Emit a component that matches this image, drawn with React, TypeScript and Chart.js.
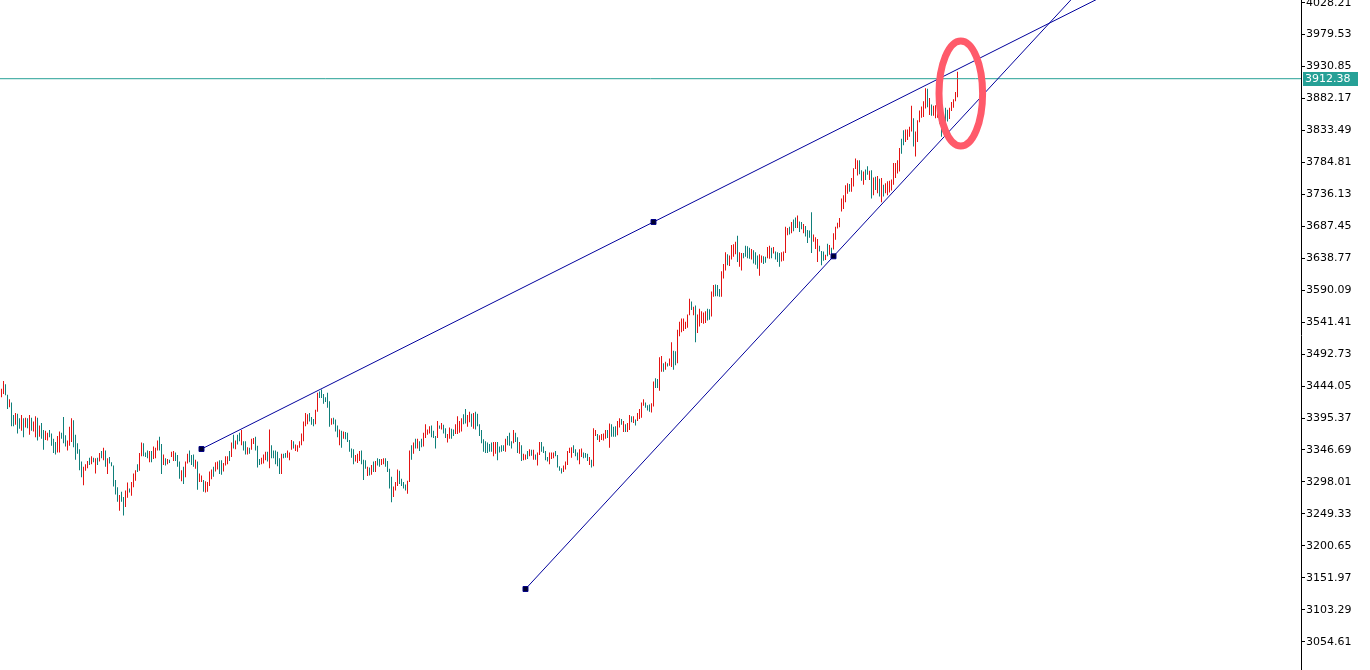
import React, { useEffect, useRef } from "react";
import { Chart, registerables } from "chart.js";

Chart.register(...registerables);

// ---- data (prices) ----
const barHigh: number[] = [
  3440,3452,3447,3431,3424,3419,3400,3403,3402,3395,
  3400,3395,3396,3395,3400,3396,3390,3398,3396,3384,
  3388,3377,3376,3373,3377,3372,3364,3359,3368,3375,
  3373,3397,3369,3361,3382,3395,3392,3370,3357,3348,
  3329,3321,3325,3330,3335,3337,3335,3334,3335,3342,
  3345,3350,3346,3334,3336,3328,3323,3301,3290,3278,
  3283,3275,3285,3297,3288,3298,3311,3316,3325,3342,
  3358,3357,3343,3346,3345,3345,3352,3350,3361,3367,
  3356,3340,3334,3333,3332,3344,3345,3343,3339,3329,
  3316,3321,3329,3341,3346,3339,3340,3332,3329,3311,
  3308,3301,3299,3298,3314,3317,3321,3328,3329,3331,
  3331,3327,3337,3337,3345,3358,3370,3361,3370,3373,
  3377,3360,3360,3351,3350,3364,3365,3367,3353,3333,
  3335,3340,3344,3344,3378,3354,3346,3346,3344,3334,
  3341,3341,3342,3346,3343,3362,3360,3355,3354,3360,
  3372,3390,3403,3401,3403,3397,3394,3408,3434,3436,
  3439,3432,3427,3434,3421,3395,3396,3393,3384,3378,
  3376,3375,3374,3373,3362,3349,3348,3339,3341,3345,
  3346,3332,3331,3321,3320,3324,3329,3330,3334,3333,
  3333,3334,3334,3330,3318,3306,3291,3298,3317,3315,
  3303,3298,3294,3300,3346,3354,3358,3364,3364,3360,
  3364,3373,3386,3378,3383,3384,3376,3368,3391,3384,
  3388,3385,3380,3371,3381,3379,3378,3386,3398,3391,
  3395,3401,3409,3400,3405,3402,3403,3405,3402,3386,
  3377,3363,3360,3358,3356,3358,3359,3359,3359,3352,
  3354,3354,3364,3368,3373,3360,3377,3373,3366,3359,
  3354,3341,3340,3345,3348,3347,3347,3340,3343,3359,
  3359,3352,3345,3336,3343,3343,3343,3345,3339,3322,
  3319,3323,3329,3345,3350,3351,3354,3348,3343,3348,
  3349,3343,3342,3341,3336,3332,3380,3377,3371,3369,
  3371,3372,3377,3377,3387,3386,3382,3383,3391,3395,
  3394,3391,3386,3388,3400,3398,3398,3393,3403,3409,
  3419,3424,3419,3415,3416,3418,3451,3456,3455,3488,
  3490,3479,3481,3479,3486,3511,3498,3497,3530,3542,
  3547,3547,3542,3553,3577,3573,3565,3567,3553,3562,
  3558,3556,3558,3562,3561,3588,3598,3599,3598,3592,
  3619,3630,3648,3645,3643,3659,3660,3664,3673,3648,
  3647,3647,3658,3657,3655,3653,3651,3648,3643,3645,
  3643,3642,3641,3656,3658,3655,3656,3649,3648,3647,
  3648,3649,3687,3685,3687,3694,3698,3701,3704,3695,
  3694,3691,3688,3682,3681,3709,3675,3671,3668,3658,
  3650,3649,3644,3661,3659,3655,3677,3687,3693,3700,
  3730,3735,3750,3753,3752,3761,3776,3791,3788,3788,
  3773,3771,3774,3779,3772,3773,3762,3763,3764,3760,
  3761,3751,3753,3756,3757,3759,3784,3784,3788,3807,
  3821,3834,3835,3835,3839,3871,3852,3832,3849,3864,
  3870,3878,3898,3897,3883,3873,3871,3872,3874,3868,
  3847,3857,3868,3865,3868,3877,3881,3892,3923,
];

const barLow: number[] = [
  3427,3432,3430,3409,3412,3383,3383,3385,3372,3379,
  3376,3366,3381,3380,3370,3376,3375,3366,3361,3367,
  3364,3347,3362,3361,3366,3353,3342,3340,3343,3343,
  3364,3357,3352,3346,3353,3359,3351,3332,3341,3316,
  3305,3293,3315,3319,3324,3325,3328,3311,3324,3329,
  3334,3331,3321,3310,3326,3322,3291,3279,3268,3254,
  3268,3247,3260,3274,3282,3277,3290,3300,3313,3315,
  3337,3337,3336,3334,3328,3328,3333,3334,3346,3346,
  3310,3324,3323,3325,3327,3336,3330,3330,3321,3303,
  3299,3295,3305,3326,3328,3324,3321,3318,3286,3298,
  3298,3283,3282,3283,3292,3302,3306,3314,3317,3310,
  3309,3314,3323,3325,3330,3336,3349,3348,3355,3360,
  3354,3346,3340,3340,3341,3347,3356,3346,3320,3324,
  3325,3326,3331,3329,3319,3334,3334,3325,3322,3310,
  3310,3334,3335,3335,3331,3347,3349,3345,3344,3350,
  3354,3360,3383,3386,3390,3385,3383,3386,3405,3426,
  3426,3417,3420,3411,3382,3385,3386,3375,3366,3354,
  3350,3364,3363,3359,3344,3335,3325,3329,3327,3330,
  3325,3301,3318,3307,3308,3309,3313,3313,3323,3321,
  3324,3325,3321,3313,3288,3267,3275,3285,3292,3295,
  3292,3288,3285,3280,3298,3332,3341,3349,3349,3345,
  3351,3352,3365,3370,3372,3366,3365,3349,3365,3379,
  3378,3372,3365,3358,3364,3364,3368,3371,3371,3373,
  3375,3386,3387,3382,3389,3382,3379,3378,3383,3368,
  3357,3344,3342,3342,3344,3344,3337,3341,3331,3343,
  3344,3345,3344,3354,3353,3349,3357,3359,3342,3341,
  3330,3331,3332,3333,3337,3338,3332,3332,3323,3339,
  3344,3342,3331,3329,3325,3333,3334,3337,3320,3315,
  3311,3313,3317,3324,3342,3335,3342,3337,3331,3325,
  3336,3334,3335,3330,3324,3320,3322,3368,3362,3359,
  3362,3361,3364,3365,3350,3367,3367,3367,3369,3381,
  3385,3374,3374,3374,3377,3389,3388,3384,3391,3394,
  3396,3414,3411,3407,3405,3404,3413,3441,3441,3437,
  3466,3466,3469,3474,3475,3473,3469,3476,3479,3520,
  3526,3528,3531,3533,3552,3560,3552,3511,3525,3535,
  3540,3539,3540,3544,3545,3550,3580,3581,3581,3580,
  3580,3608,3620,3628,3627,3637,3641,3645,3633,3626,
  3620,3639,3641,3639,3638,3637,3631,3629,3623,3612,
  3632,3630,3632,3639,3638,3639,3646,3637,3633,3626,
  3634,3635,3647,3674,3675,3677,3680,3685,3685,3679,
  3683,3677,3672,3662,3670,3647,3664,3653,3633,3649,
  3628,3635,3636,3642,3644,3639,3652,3667,3684,3686,
  3710,3714,3724,3737,3740,3740,3748,3775,3765,3767,
  3757,3751,3758,3766,3758,3730,3735,3743,3738,3733,
  3724,3733,3738,3735,3739,3742,3751,3761,3768,3771,
  3798,3811,3816,3819,3824,3832,3809,3794,3816,3846,
  3853,3854,3867,3869,3857,3856,3856,3852,3853,3844,
  3824,3837,3846,3847,3851,3863,3868,3878,3884,
];

// r = up bar (red), t = down bar (teal)
const barDirection: string[] = (
  "rrttrttrtt" + "rtrtrtrrtr" + "ttrrttttrr" + "tttrrrtttt" + "trrrtrtrtr" + "trtrtttttr" + "ttrrtrrrtr" +
  "rtttrtrrrt" + "trtrtrrttt" + "rtrrtttrtr" + "rtrrrrtrrt" + "trrrtrtrtt" + "rttrtrrttt" + "rrrtrttttt" +
  "rttrrrtrrr" + "rrrrtttrrt" + "tttttrtttr" + "trtttttrrr" + "tttrtrtrtt" + "rrttttrrrt" + "tttrrtrtrt" +
  "trrrrtttrt" + "rttrrttrrr" + "rttrrtrttt" + "ttttttrrtt" + "ttrtttrttr" + "trrtrtrtrr" + "ttttrrrttt" +
  "trrrrrtttr" + "rtttrtrrtr" + "rrrtrtttrr" + "trtrrtrtrr" + "rrtttrrttr" + "rtrtrrttrr" + "rrrrrtrtrr" +
  "rrrttrrttt" + "rrrtrrrrtr" + "rttttrtttr" + "rttrrtrttt" + "rrrrtrttrt" + "trttttrrrt" + "ttrtrtrrrr" +
  "rrrrtrrrrt" + "trttrtrtrt" + "rtrrrrrrrr" + "ttrrrrtrrr" + "rrrtrtrrrt" + "ttttrrrrr"
).split("");

const priceTicks: number[] = [
  4028.21, 3979.53, 3930.85, 3882.17, 3833.49, 3784.81, 3736.13, 3687.45, 3638.77, 3590.09,
  3541.41, 3492.73, 3444.05, 3395.37, 3346.69, 3298.01, 3249.33, 3200.65, 3151.97, 3103.29, 3054.61,
];

const bidPrice = 3912.38;
const priceRange = [3011.5, 4032.3];
const barRange = [-0.75, 649.75];

const trendUpper = [
  { bar: 100, price: 3348.2 },
  { bar: 326, price: 3694.1 },
];
const trendLower = [
  { bar: 262, price: 3134.9 },
  { bar: 416, price: 3641.8 },
];
const highlight = { bar: 479.65, price: 3889.8, barRadius: 10.9, priceRadius: 80 };

// ---- styles ----
const UP_COLOR = "#e31313";
const DOWN_COLOR = "#0f7f7a";
const TREND_COLOR = "#00009c";
const BID_COLOR = "#26a096";
const ELLIPSE_COLOR = "#ff5a6a";
const FONT = "DejaVu Sans";

function rayPoints(a: { bar: number; price: number }, b: { bar: number; price: number }, toBar: number) {
  const slope = (b.price - a.price) / (b.bar - a.bar);
  return [
    { x: a.bar, y: a.price },
    { x: b.bar, y: b.price },
    { x: toBar, y: a.price + slope * (toBar - a.bar) },
  ];
}

const overlayPlugin = {
  id: "overlay",
  afterDatasetsDraw(chart: any) {
    const { ctx, scales } = chart;
    const x = scales.x;
    const y = scales.y;
    const cx = x.getPixelForValue(highlight.bar);
    const cy = y.getPixelForValue(highlight.price);
    const rx = Math.abs(x.getPixelForValue(highlight.bar + highlight.barRadius) - cx);
    const ry = Math.abs(y.getPixelForValue(highlight.price + highlight.priceRadius) - cy);
    ctx.save();
    ctx.beginPath();
    ctx.ellipse(cx, cy, rx, ry, 0, 0, Math.PI * 2);
    ctx.lineWidth = 7;
    ctx.strokeStyle = ELLIPSE_COLOR;
    ctx.stroke();
    ctx.restore();
  },
  afterDraw(chart: any) {
    const { ctx, scales } = chart;
    const y = scales.y;
    const py = y.getPixelForValue(bidPrice);
    ctx.save();
    ctx.fillStyle = BID_COLOR;
    ctx.fillRect(y.left + 2, Math.round(py) - 7, 55, 14);
    ctx.fillStyle = "#ffffff";
    ctx.font = `11px "${FONT}"`;
    ctx.textBaseline = "middle";
    ctx.textAlign = "left";
    ctx.fillText(bidPrice.toFixed(2), y.left + 4, Math.round(py));
    ctx.restore();
  },
};

export default function App() {
  const ref = useRef<HTMLCanvasElement | null>(null);

  useEffect(() => {
    document.body.style.margin = "0";
    document.body.style.background = "#ffffff";
    const canvas = ref.current;
    if (!canvas) return;

    const bars = barHigh.map((h, i) => ({ x: i, y: [barLow[i], h] }));
    const colors = barHigh.map((_, i) => (barDirection[i] === "t" ? DOWN_COLOR : UP_COLOR));

    const trendStyle = {
      type: "line",
      borderColor: TREND_COLOR,
      borderWidth: 1,
      pointStyle: "rect",
      pointRadius: [3.5, 3.5, 0],
      pointHoverRadius: 0,
      pointBackgroundColor: "#00002e",
      pointBorderColor: "#000088",
      pointBorderWidth: 1,
      fill: false,
      tension: 0,
      order: 1,
    };

    const chart = new Chart(canvas, {
      type: "bar",
      data: {
        datasets: [
          { ...trendStyle, data: rayPoints(trendUpper[0], trendUpper[1], barRange[1]) } as any,
          { ...trendStyle, data: rayPoints(trendLower[0], trendLower[1], barRange[1]) } as any,
          {
            type: "line",
            data: [
              { x: barRange[0], y: bidPrice },
              { x: barRange[1], y: bidPrice },
            ],
            borderColor: BID_COLOR,
            borderWidth: 1,
            pointRadius: 0,
            fill: false,
            order: 2,
          } as any,
          {
            type: "bar",
            data: bars as any,
            backgroundColor: colors,
            borderWidth: 0,
            barThickness: 1,
            inflateAmount: 0,
            grouped: false,
            order: 3,
          } as any,
        ],
      },
      options: {
        animation: false,
        responsive: false,
        events: [],
        layout: { padding: 0, autoPadding: false },
        plugins: {
          legend: { display: false },
          tooltip: { enabled: false },
        },
        scales: {
          x: {
            type: "linear",
            min: barRange[0],
            max: barRange[1],
            offset: false,
            display: false,
          },
          y: {
            type: "linear",
            position: "right",
            min: priceRange[0],
            max: priceRange[1],
            afterBuildTicks: (s: any) => {
              s.ticks = priceTicks.map((v) => ({ value: v }));
            },
            afterFit: (s: any) => {
              s.width = 69;
              s.paddingTop = 0;
              s.paddingBottom = 0;
            },
            ticks: {
              autoSkip: false,
              padding: 1,
              color: "#000000",
              font: { family: FONT, size: 11 },
              callback: (v: any) => Number(v).toFixed(2),
            },
            grid: {
              drawOnChartArea: false,
              drawTicks: true,
              tickLength: 4,
              color: "#000000",
            },
            border: { display: true, color: "#000000", width: 1 },
          },
        },
      } as any,
      plugins: [overlayPlugin],
    });

    return () => chart.destroy();
  }, []);

  return <canvas ref={ref} width={1370} height={670} style={{ display: "block" }} />;
}
